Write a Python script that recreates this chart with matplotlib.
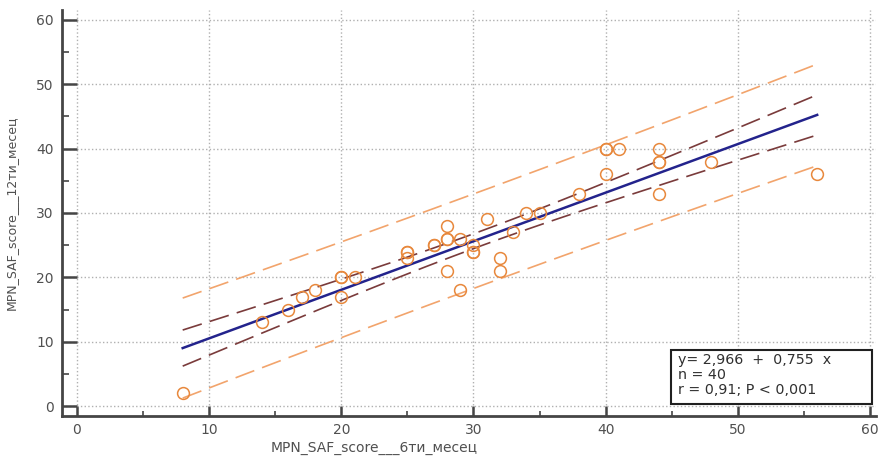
import numpy as np
import matplotlib
matplotlib.use('Agg')
import matplotlib.pyplot as plt
from matplotlib.ticker import MultipleLocator
from matplotlib.patches import Rectangle

# values (6 months -> 12 months MPN SAF score)
x_6m = [8, 14, 16, 17, 18, 20, 20, 21, 25, 25, 27, 28, 29, 28, 29, 28, 31, 30, 30, 32,
        32, 33, 34, 35, 38, 40, 41, 44, 40, 44, 44, 48, 56,
        20, 25, 28, 30, 40, 44, 27]
y_12m = [2, 13, 15, 17, 18, 20, 17, 20, 24, 23, 25, 26, 26, 21, 18, 28, 29, 25, 24, 23,
         21, 27, 30, 30, 33, 40, 40, 40, 36, 38, 33, 38, 36,
         20, 24, 26, 24, 40, 38, 25]

intercept = 2.966
slope = 0.755
t_crit = 2.024          # t(0.975, 38)
stats_text = "y= 2,966  +  0,755  x\nn = 40\nr = 0,91; P < 0,001"

x = np.array(x_6m, float)
y = np.array(y_12m, float)
n = len(x)
xbar = x.mean()
sxx = ((x - xbar) ** 2).sum()
resid = y - (intercept + slope * x)
s = np.sqrt((resid ** 2).sum() / (n - 2))

xs = np.linspace(x.min(), x.max(), 200)
fit = intercept + slope * xs
ci = t_crit * s * np.sqrt(1 / n + (xs - xbar) ** 2 / sxx)
pi = t_crit * s * np.sqrt(1 + 1 / n + (xs - xbar) ** 2 / sxx)

C_SPINE = '#454545'
C_TXT = '#505050'
C_PT = '#e8883c'
C_PI = '#f2a46c'
C_CI = '#7a3b3b'
C_FIT = '#23238c'

fig = plt.figure(figsize=(8.79, 4.58), dpi=100)
ax = fig.add_axes([62 / 879, 42 / 458, 814 / 879, 406 / 458])

ax.grid(True, which='major', color='#b0b0b0', linestyle=':', linewidth=1.0)
ax.set_axisbelow(True)

ax.plot(xs, fit + pi, color=C_PI, lw=1.2, dashes=(12, 5))
ax.plot(xs, fit - pi, color=C_PI, lw=1.2, dashes=(12, 5))
ax.plot(xs, fit + ci, color=C_CI, lw=1.2, dashes=(12, 5))
ax.plot(xs, fit - ci, color=C_CI, lw=1.2, dashes=(12, 5))
ax.plot(xs, fit, color=C_FIT, lw=1.8)
ax.plot(x, y, 'o', mfc='none', mec=C_PT, mew=1.1, ms=8.5, zorder=5)

ax.set_xlim(-1.13, 60.45)
ax.set_ylim(-1.55, 61.55)
ax.xaxis.set_major_locator(MultipleLocator(10))
ax.xaxis.set_minor_locator(MultipleLocator(5))
ax.yaxis.set_major_locator(MultipleLocator(10))
ax.yaxis.set_minor_locator(MultipleLocator(5))

for side in ['top', 'right']:
    ax.spines[side].set_visible(False)
for side in ['left', 'bottom']:
    ax.spines[side].set_color(C_SPINE)
    ax.spines[side].set_linewidth(2)

ax.tick_params(axis='y', which='major', direction='in', length=10.8, width=1.8,
               color=C_SPINE, labelsize=10, labelcolor=C_TXT, pad=6)
ax.tick_params(axis='y', which='minor', direction='in', length=5, width=1.2, color=C_SPINE)
ax.tick_params(axis='x', which='major', direction='in', length=7.2, width=1.8,
               color=C_SPINE, labelsize=10, labelcolor=C_TXT, pad=5)
ax.tick_params(axis='x', which='minor', direction='in', length=3.6, width=1.2, color=C_SPINE)

ax.set_xlabel('MPN_SAF_score___6ти_месец', fontsize=10, color=C_TXT)
ax.xaxis.set_label_coords(0.383, -0.062)
ax.set_ylabel('MPN_SAF_score___12ти_месец', fontsize=9, color=C_TXT)
ax.yaxis.set_label_coords(-0.054, 0.5)

# stats box
ax.add_patch(Rectangle((0.748, 0.0296), 0.247, 0.133, transform=ax.transAxes,
                       fc='white', ec='#202020', lw=1.5, zorder=6))
ax.text(0.757, 0.155, stats_text, transform=ax.transAxes, fontsize=10.3, color='#303030',
        va='top', ha='left', linespacing=1.1, zorder=7)

fig.savefig('out.png', dpi=100)
